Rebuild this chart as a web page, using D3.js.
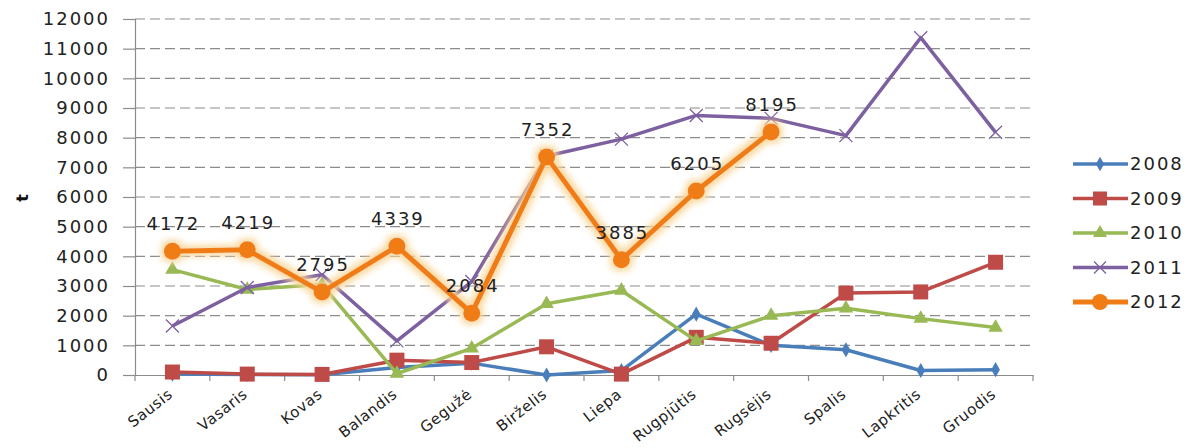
<!DOCTYPE html>
<html>
<head>
<meta charset="utf-8">
<script src="https://cdn.jsdelivr.net/npm/d3@7"></script>
<style>
  body { margin: 0; background: #fff; }
  text { font-family: "DejaVu Sans", Verdana, sans-serif; }
</style>
</head>
<body>
<div id="chart"></div>
<script>
var months = ["Sausis", "Vasaris", "Kovas", "Balandis", "Gegužė", "Birželis", "Liepa",
    "Rugpjūtis", "Rugsėjis", "Spalis", "Lapkritis", "Gruodis"];
var years = ["2008", "2009", "2010", "2011", "2012"];
var yTicks = [0, 1000, 2000, 3000, 4000, 5000, 6000, 7000, 8000, 9000, 10000, 11000, 12000];

var v2008 = [30, 20, 10, 250, 400, 0, 150, 2050, 1000, 850, 150, 180];
var v2009 = [100, 30, 20, 500, 420, 950, 30, 1270, 1070, 2760, 2800, 3800];
var v2010 = [3550, 2880, 3050, 50, 900, 2400, 2850, 1150, 2000, 2250, 1900, 1600];
var v2011 = [1650, 2950, 3380, 1150, 3150, 7380, 7950, 8750, 8650, 8070, 11370, 8180];
var v2012 = [4172, 4219, 2795, 4339, 2084, 7352, 3885, 6205, 8195];

var colors = ["#4a7ebb", "#be4b48", "#98b954", "#7d60a0", "#f07c16"];
var seriesValues = [v2008, v2009, v2010, v2011, v2012];

var margin = { left: 135, right: 159, top: 19, bottom: 73 };
var width = 1192 - margin.left - margin.right;
var height = 448 - margin.top - margin.bottom;

var svg = d3.select("#chart").append("svg")
    .attr("width", 1192)
    .attr("height", 448);

// glow for the 2012 line
var defs = svg.append("defs");
var glow = defs.append("filter").attr("id", "glow")
    .attr("x", "-10%").attr("y", "-10%").attr("width", "120%").attr("height", "120%");
glow.append("feMorphology").attr("in", "SourceAlpha").attr("operator", "dilate").attr("radius", 2.5).attr("result", "dil");
glow.append("feGaussianBlur").attr("in", "dil").attr("stdDeviation", 3).attr("result", "blur");
glow.append("feFlood").attr("flood-color", "#f9d597").attr("flood-opacity", 0.9);
glow.append("feComposite").attr("in2", "blur").attr("operator", "in").attr("result", "halo");
var merge = glow.append("feMerge");
merge.append("feMergeNode").attr("in", "halo");
merge.append("feMergeNode").attr("in", "SourceGraphic");

var g = svg.append("g")
    .attr("transform", "translate(" + margin.left + "," + margin.top + ")");

// Scales
var x = d3.scaleBand().domain(months).range([0, width]);
var y = d3.scaleLinear().domain([0, 12000]).range([height, 0]);

// Grid
g.append("g").selectAll("line").data(yTicks.slice(1)).enter().append("line")
    .attr("x1", 0).attr("x2", width)
    .attr("y1", d => y(d)).attr("y2", d => y(d))
    .attr("stroke", "#8c8c8c")
    .attr("stroke-width", 1.2)
    .attr("stroke-dasharray", "10,5");

// Axes
var yAxis = d3.axisLeft(y).tickValues(yTicks).tickSize(12).tickPadding(13).tickFormat(d3.format("d"));
var ya = g.append("g").attr("class", "y axis").call(yAxis);
ya.selectAll("text").attr("font-size", 18).attr("fill", "#222").attr("letter-spacing", 2)
    .attr("font-family", "DejaVu Sans");

var xAxis = d3.axisBottom(x).tickSize(0).tickFormat("");
var xa = g.append("g").attr("class", "x axis")
    .attr("transform", "translate(0," + height + ")")
    .call(xAxis);
xa.selectAll("line").remove();
xa.selectAll(".bound").data(d3.range(months.length + 1)).enter().append("line")
    .attr("x1", i => i * x.bandwidth()).attr("x2", i => i * x.bandwidth())
    .attr("y1", 0).attr("y2", 6)
    .attr("stroke", "#8c8c8c").attr("stroke-width", 1.2);

svg.selectAll(".domain").attr("stroke", "#8c8c8c").attr("stroke-width", 1.2);
ya.selectAll(".tick line").attr("stroke", "#8c8c8c").attr("stroke-width", 1.2);

g.append("g").selectAll("text").data(months).enter().append("text")
    .attr("transform", d => "translate(" + (x(d) + x.bandwidth() / 2 - 2) + "," + (height + 17) + ") rotate(-38)")
    .attr("text-anchor", "end")
    .attr("dy", "0.35em")
    .attr("font-size", 15)
    .attr("letter-spacing", 0.6)
    .attr("fill", "#222")
    .text(d => d);

// axis title
svg.append("text")
    .attr("transform", "translate(22,198) rotate(-90)")
    .attr("text-anchor", "middle")
    .attr("dy", "0.35em")
    .attr("font-size", 16)
    .attr("font-weight", "bold")
    .attr("fill", "#111")
    .text("t");

// Lines
var line = d3.line()
    .x((d, i) => x(months[i]) + x.bandwidth() / 2)
    .y(d => y(d));

function marker(sel, k, size) {
    var c = colors[k];
    if (k === 0) {
        sel.append("path").attr("d", d3.symbol(d3.symbolDiamond, size * 6)).attr("fill", c);
    } else if (k === 1) {
        sel.append("rect").attr("x", -size / 2).attr("y", -size / 2)
            .attr("width", size).attr("height", size).attr("fill", c);
    } else if (k === 2) {
        sel.append("path").attr("d", d3.symbol(d3.symbolTriangle, size * 7)).attr("fill", c);
    } else if (k === 3) {
        sel.append("path")
            .attr("fill", "none").attr("stroke", c).attr("stroke-width", 1.3)
            .attr("d", "M" + (-size / 2) + "," + (-size / 2) + "L" + (size / 2) + "," + (size / 2) +
                "M" + (size / 2) + "," + (-size / 2) + "L" + (-size / 2) + "," + (size / 2));
    } else {
        sel.append("circle").attr("r", size / 2).attr("fill", c);
    }
}

var markerSizes = [11, 15, 13, 13, 17];
var lineWidths = [3.5, 3.5, 3.5, 3.5, 5];

seriesValues.forEach(function (vals, k) {
    var s = g.append("g").attr("class", "series");
    if (k === 4) s.attr("filter", "url(#glow)");
    s.append("path")
        .attr("d", line(vals))
        .attr("fill", "none")
        .attr("stroke", colors[k])
        .attr("stroke-width", lineWidths[k])
        .attr("stroke-linejoin", "round");
    s.selectAll(".pt").data(vals).enter().append("g")
        .attr("transform", (d, i) => "translate(" + (x(months[i]) + x.bandwidth() / 2) + "," + y(d) + ")")
        .each(function () { marker(d3.select(this), k, markerSizes[k]); });
});

// data labels 2012
g.append("g").selectAll("text").data(v2012).enter().append("text")
    .attr("x", (d, i) => x(months[i]) + x.bandwidth() / 2 + 1)
    .attr("y", d => y(d) - 21)
    .attr("text-anchor", "middle")
    .attr("font-size", 18)
    .attr("letter-spacing", 2)
    .attr("fill", "#222")
    .text(d => d);

// Legend
var legend = svg.append("g").attr("transform", "translate(1073,164)");
years.forEach(function (yr, k) {
    var row = legend.append("g").attr("transform", "translate(0," + (k * 34.5) + ")");
    row.append("line").attr("x1", 0).attr("x2", 55).attr("y1", 0).attr("y2", 0)
        .attr("stroke", colors[k]).attr("stroke-width", lineWidths[k]);
    var m = row.append("g").attr("transform", "translate(27,0)");
    marker(m, k, markerSizes[k] - 1);
    row.append("text").attr("x", 57).attr("dy", "0.35em")
        .attr("font-size", 18).attr("letter-spacing", 2).attr("fill", "#222")
        .text(yr);
});
</script>
</body>
</html>
